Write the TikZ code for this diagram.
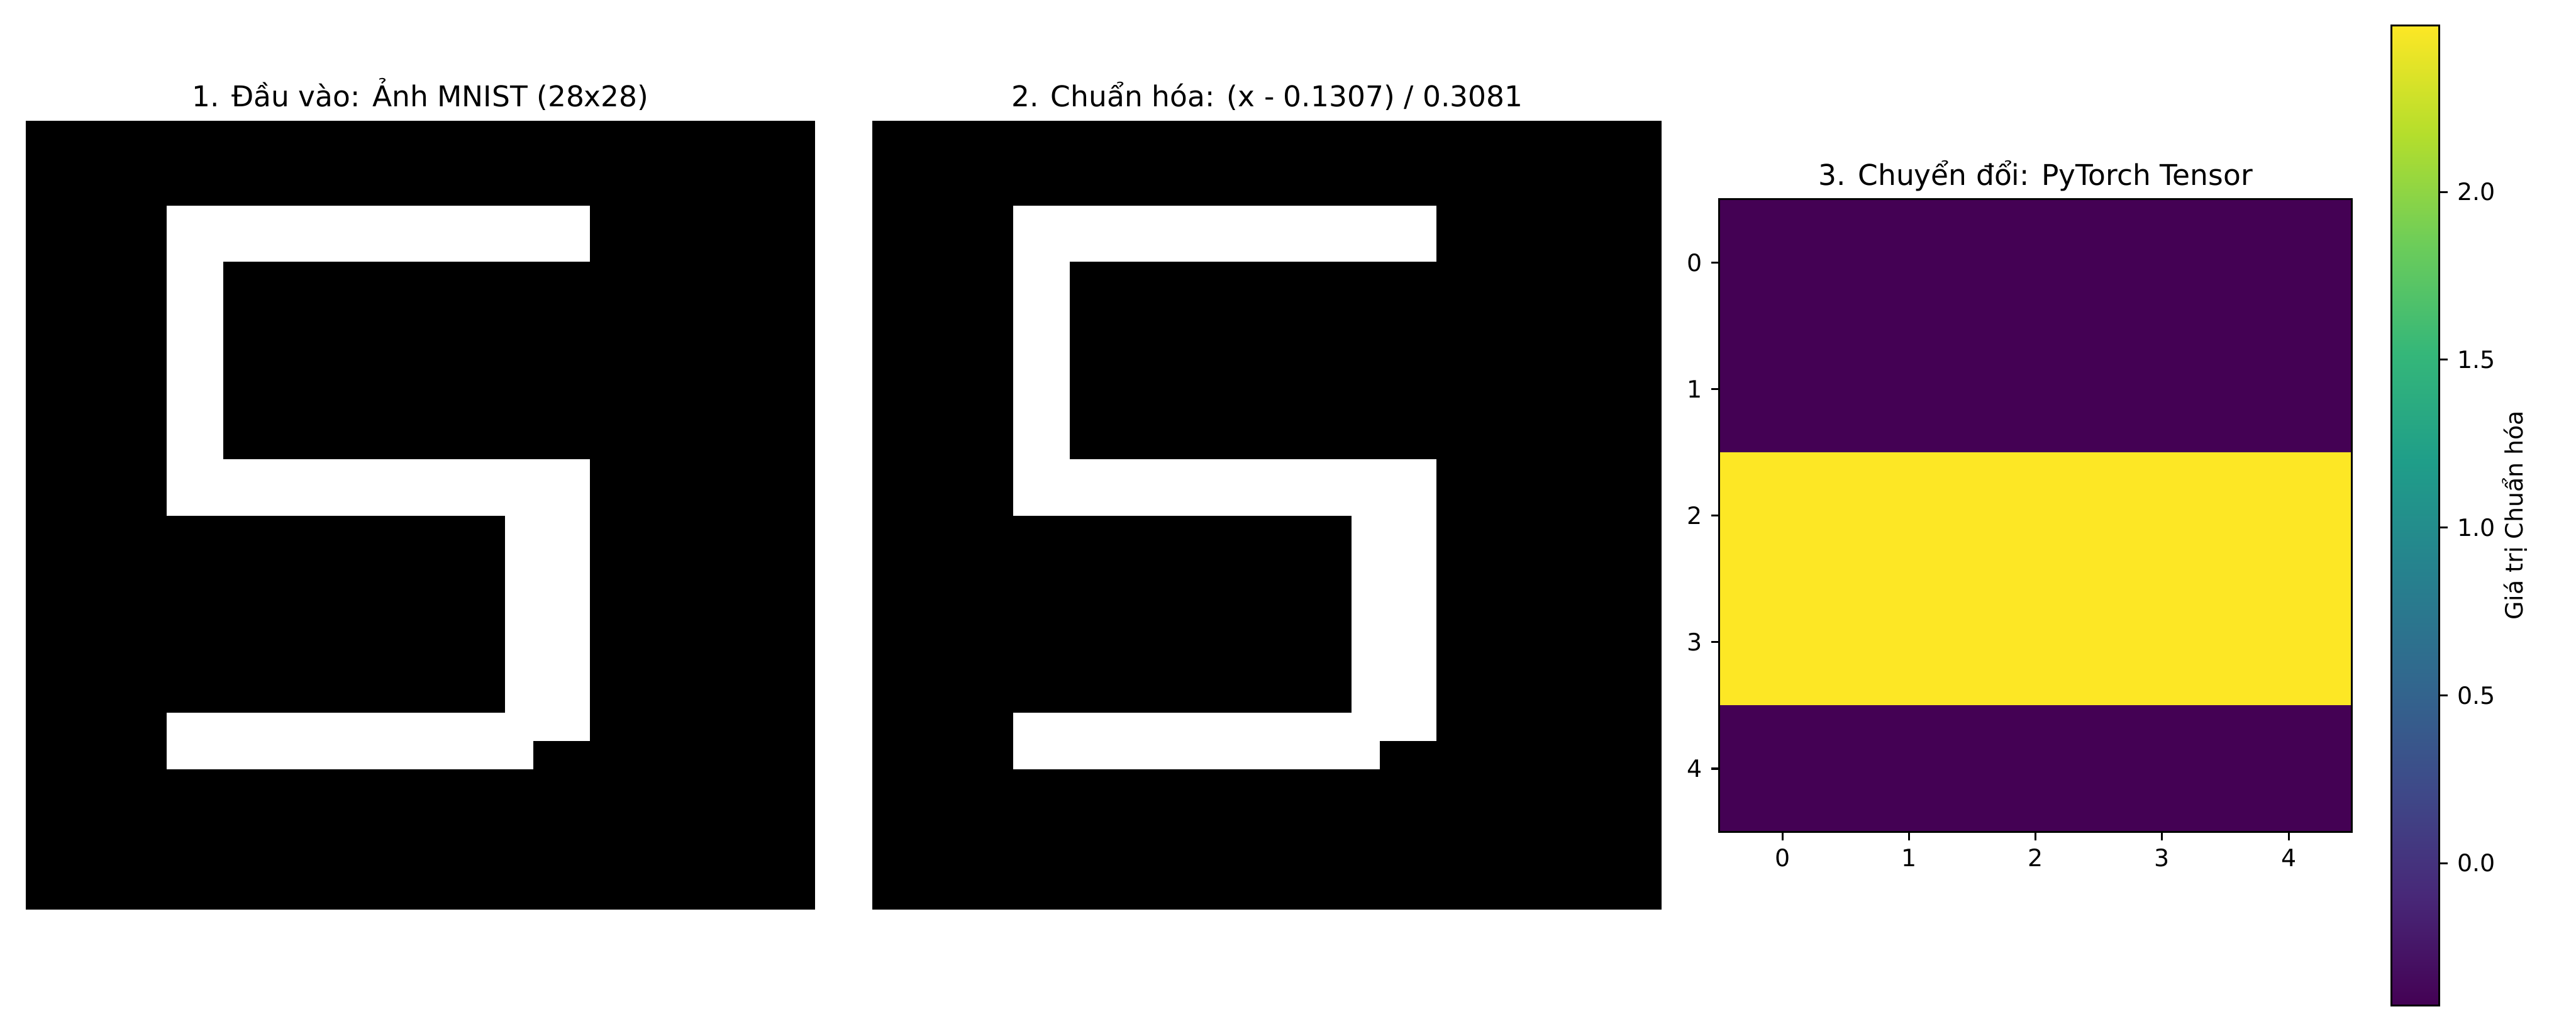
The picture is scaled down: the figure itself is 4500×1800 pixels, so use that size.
\documentclass[tikz,border=0pt]{standalone}
\usepackage{fontspec}
\setmainfont{DejaVu Sans}
\usetikzlibrary{calc}

\definecolor{vir0}{HTML}{440154}
\definecolor{vir1}{HTML}{482878}
\definecolor{vir2}{HTML}{3E4A89}
\definecolor{vir3}{HTML}{31688E}
\definecolor{vir4}{HTML}{26828E}
\definecolor{vir5}{HTML}{1F9E89}
\definecolor{vir6}{HTML}{35B779}
\definecolor{vir7}{HTML}{6DCD59}
\definecolor{vir8}{HTML}{B4DE2C}
\definecolor{vir9}{HTML}{FDE725}
\pgfdeclareverticalshading{viridis}{100bp}{color(0bp)=(vir0); color(25bp)=(vir0);
  color(30.56bp)=(vir1); color(36.11bp)=(vir2); color(41.67bp)=(vir3);
  color(47.22bp)=(vir4); color(52.78bp)=(vir5); color(58.33bp)=(vir6);
  color(63.89bp)=(vir7); color(69.44bp)=(vir8); color(75bp)=(vir9); color(100bp)=(vir9)}

% white pixels of the digit, in cell units
\newcommand{\drawfive}{%
  \fill[white] (5,3) rectangle (20,5);
  \fill[white] (5,3) rectangle (7,14);
  \fill[white] (5,12) rectangle (20,14);
  \fill[white] (17,12) rectangle (20,22);
  \fill[white] (5,21) rectangle (18,23);
}

\begin{document}
\begin{tikzpicture}[x=0.24pt, y=-0.24pt]
	\tikzset{title/.style = {font=\fontsize{12}{14}\selectfont, anchor=base, inner sep=0pt},
		ticklabel/.style = {font=\fontsize{10}{12}\selectfont, inner sep=0pt},
		frame/.style = {draw=black, line width=0.8pt},
		tickmark/.style = {line width=0.8pt}}
	\useasboundingbox (0,0) rectangle (4500,1800);
	% image panels
	\foreach \px/\name/\txt in {45/input/{1. Đầu vào: Ảnh MNIST (28x28)}, 1524/norm/{2. Chuẩn hóa: (x - 0.1307) / 0.3081}}{
		\fill[black] (\px,211) rectangle ++(1379,1378);
		\begin{scope}[shift={(\px,211)}, x=11.82pt, y=-11.82pt]
			\drawfive
		\end{scope}
		\node[title] (\name) at (\px+689.5,186) {\txt};
	}
	% tensor panel
	\fill[vir0] (3003.5,348) rectangle (4108.5,1453);
	\fill[vir9] (3003.5,790) rectangle (4108.5,1232);
	\draw[frame] (3003.5,348) rectangle (4108.5,1453);
	\node[title] (tensor) at (3556,323) {3. Chuyển đổi: PyTorch Tensor};
	\foreach \i in {0,...,4}{
		\draw[tickmark] (3114+221*\i,1453) -- ++(0,14.6);
		\node[ticklabel, anchor=north] (xt\i) at (3114+221*\i,1482) {\i};
		\draw[tickmark] (3003.5,458.5+221*\i) -- ++(-14.6,0);
		\node[ticklabel, anchor=east] (yt\i) at (2974,458.5+221*\i) {\i};
	}
	% colorbar
	\shade[shading=viridis] (4177,45) rectangle (4261,1756);
	\draw[frame] (4177,45) rectangle (4261,1756);
	\foreach \v/\lab [count=\k] in {0/0.0, 0.5/0.5, 1/1.0, 1.5/1.5, 2/2.0}{
		\draw[tickmark] (4261,1507.4-586.1*\v) -- ++(14.6,0);
		\node[ticklabel, anchor=west] (cb\k) at (4292,1507.4-586.1*\v) {\lab};
	}
	\node[ticklabel, rotate=90, anchor=base] (cblabel) at (4407,900) {Giá trị Chuẩn hóa};
\end{tikzpicture}
\end{document}
